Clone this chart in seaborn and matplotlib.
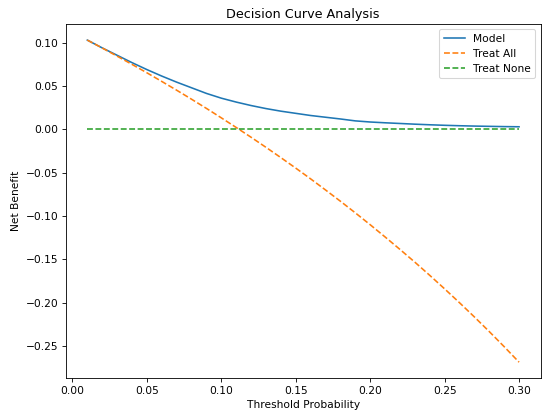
import numpy as np
import pandas as pd
import matplotlib
matplotlib.use('Agg')
import matplotlib.pyplot as plt
import seaborn as sns

# threshold probabilities on the x axis
thresholds = [0.01, 0.02, 0.03, 0.04, 0.05, 0.06, 0.07, 0.08, 0.09, 0.10,
              0.11, 0.12, 0.13, 0.14, 0.15, 0.16, 0.17, 0.18, 0.19, 0.20,
              0.21, 0.22, 0.23, 0.24, 0.25, 0.26, 0.27, 0.28, 0.29, 0.30]

# net benefit
model_nb = [0.103, 0.094, 0.0855, 0.077, 0.069, 0.0615, 0.0545, 0.048, 0.0415, 0.036,
            0.0315, 0.0275, 0.024, 0.021, 0.0185, 0.016, 0.014, 0.012, 0.0098, 0.0085,
            0.0076, 0.0068, 0.006, 0.0053, 0.0047, 0.0042, 0.0038, 0.0035, 0.0032, 0.003]

treat_all_nb = [0.1030, 0.0939, 0.0845, 0.0750, 0.0653, 0.0553, 0.0452, 0.0348, 0.0242, 0.0133,
                0.0022, -0.0091, -0.0207, -0.0326, -0.0447, -0.0571, -0.0699, -0.0829, -0.0963, -0.1100,
                -0.1241, -0.1385, -0.1532, -0.1684, -0.1840, -0.2000, -0.2164, -0.2333, -0.2507, -0.2686]

treat_none_nb = [0.0] * len(thresholds)

df = pd.DataFrame({'threshold': thresholds, 'model': model_nb,
                   'treat_all': treat_all_nb, 'treat_none': treat_none_nb})

fig = plt.figure(figsize=(550 / 76.4, 418 / 76.4), dpi=76.4)
ax = fig.add_subplot(111)

sns.lineplot(data=df, x='threshold', y='model', ax=ax, color='#1f77b4', label='Model')
sns.lineplot(data=df, x='threshold', y='treat_all', ax=ax, color='#ff7f0e', linestyle='--', label='Treat All')
sns.lineplot(data=df, x='threshold', y='treat_none', ax=ax, color='#2ca02c', linestyle='--', label='Treat None')

ax.set_xlabel('Threshold Probability')
ax.set_ylabel('Net Benefit')
ax.set_title('Decision Curve Analysis')
ax.legend(loc='upper right')

fig.subplots_adjust(left=0.1195, right=0.983, bottom=0.095, top=0.9426)
fig.savefig('out.png', dpi=76.4)
